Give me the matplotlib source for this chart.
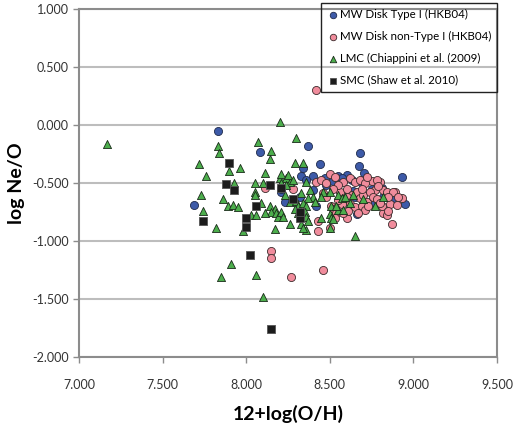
import matplotlib
matplotlib.use('Agg')
import matplotlib.pyplot as plt
from matplotlib.ticker import FormatStrFormatter

plt.rcParams['font.family'] = ['Lato', 'DejaVu Sans']

# MW Disk Type I (HKB04)
mw1_x = [7.83, 7.69, 8.08, 8.37, 8.44, 8.34, 8.68, 8.675, 8.705, 8.93,
         8.55, 8.60, 8.40, 8.33, 8.47, 8.40, 8.95, 8.66, 8.42, 8.21,
         8.32, 8.64, 8.75, 8.82, 8.81, 8.87, 8.23, 8.52, 8.57, 8.63,
         8.69, 8.75, 8.36, 8.21, 8.48, 8.65]
mw1_y = [-0.05, -0.69, -0.23, -0.18, -0.34, -0.37, -0.24, -0.35, -0.41, -0.45,
         -0.44, -0.43, -0.44, -0.44, -0.46, -0.56, -0.68, -0.77, -0.70, -0.575,
         -0.62, -0.57, -0.67, -0.62, -0.54, -0.65, -0.66, -0.48, -0.46, -0.47,
         -0.50, -0.55, -0.47, -0.55, -0.52, -0.62]

# MW Disk non-Type I (HKB04)
mw2_x = [8.42, 8.11, 8.28, 8.15, 8.15, 8.27, 8.46, 8.50, 8.42, 8.75,
         8.80, 8.89, 8.93, 8.86, 8.82, 8.84, 8.87, 8.60, 8.50, 8.43,
         8.46, 8.48, 8.56, 8.51, 8.54, 8.90, 8.81, 8.77, 8.82, 8.84,
         8.88, 8.43, 8.52, 8.54, 8.53, 8.58, 8.45, 8.53, 8.58, 8.62,
         8.65, 8.68, 8.71, 8.72, 8.78, 8.48, 8.55, 8.60, 8.63, 8.66,
         8.68, 8.70, 8.72, 8.74, 8.76, 8.78, 8.58, 8.62, 8.65, 8.69,
         8.71, 8.73, 8.57, 8.60, 8.55, 8.79, 8.85, 8.80, 8.91, 8.69,
         8.52, 8.85, 8.61, 8.67]
mw2_y = [0.30, -0.54, -0.55, -1.09, -1.15, -1.31, -1.25, -0.42, -0.49, -0.48,
         -0.49, -0.58, -0.63, -0.68, -0.76, -0.78, -0.85, -0.80, -0.89, -0.91,
         -0.59, -0.62, -0.58, -0.70, -0.73, -0.69, -0.70, -0.56, -0.56, -0.575,
         -0.575, -0.83, -0.72, -0.76, -0.80, -0.76, -0.47, -0.45, -0.49, -0.46,
         -0.49, -0.47, -0.50, -0.45, -0.47, -0.50, -0.52, -0.55, -0.60, -0.58,
         -0.63, -0.60, -0.66, -0.58, -0.62, -0.64, -0.64, -0.68, -0.71, -0.70,
         -0.73, -0.70, -0.68, -0.62, -0.65, -0.53, -0.62, -0.67, -0.62, -0.55,
         -0.55, -0.74, -0.74, -0.76]

# LMC (Chiappini et al. 2009)
lmc_x = [7.17, 7.83, 7.84, 8.07, 7.72, 7.90, 7.96, 7.76, 7.93, 8.05,
         8.05, 7.73, 7.74, 7.86, 7.89, 7.92, 7.95, 8.03, 8.06, 7.98,
         7.82, 7.91, 7.85, 8.06, 8.10, 8.15, 8.14, 8.11, 8.29, 8.20,
         8.30, 8.34, 8.20, 8.24, 8.26, 8.21, 8.36, 8.33, 8.38, 8.40,
         8.37, 8.46, 8.45, 8.23, 8.26, 8.30, 8.31, 8.34, 8.36, 8.41,
         8.09, 8.14, 8.17, 8.15, 8.11, 8.18, 8.19, 8.21, 8.22, 8.29,
         8.31, 8.35, 8.36, 8.37, 8.36, 8.33, 8.34, 8.26, 8.45, 8.17,
         8.65, 8.82, 8.77, 8.50, 8.55, 8.57, 8.59, 8.51, 8.55, 8.58,
         8.50, 8.51, 8.50, 8.52, 8.54, 8.05, 8.10, 8.21, 8.25, 8.24,
         8.28, 8.62, 8.64, 8.70]
lmc_y = [-0.16, -0.18, -0.24, -0.15, -0.34, -0.40, -0.37, -0.44, -0.50, -0.50,
         -0.575, -0.60, -0.74, -0.64, -0.695, -0.69, -0.71, -0.78, -0.78, -0.91,
         -0.89, -1.20, -1.31, -1.29, -1.48, -0.22, -0.29, -0.41, -0.325, 0.03,
         -0.11, -0.325, -0.46, -0.455, -0.49, -0.50, -0.49, -0.59, -0.56, -0.62,
         -0.63, -0.575, -0.62, -0.60, -0.66, -0.655, -0.70, -0.675, -0.70, -0.66,
         -0.675, -0.70, -0.72, -0.75, -0.76, -0.76, -0.79, -0.75, -0.79, -0.72,
         -0.76, -0.75, -0.79, -0.83, -0.905, -0.85, -0.89, -0.85, -0.80, -0.90,
         -0.96, -0.62, -0.70, -0.575, -0.60, -0.63, -0.62, -0.70, -0.73, -0.73,
         -0.77, -0.80, -0.89, -0.81, -0.70, -0.60, -0.50, -0.42, -0.43, -0.52,
         -0.47, -0.67, -0.60, -0.64]

# SMC (Shaw et al. 2010)
smc_x = [7.90, 7.88, 7.93, 7.74, 8.06, 8.00, 8.00, 8.02, 8.15, 8.14,
         8.21, 8.28, 8.32, 8.32]
smc_y = [-0.33, -0.51, -0.56, -0.83, -0.70, -0.80, -0.88, -1.12, -1.76, -0.52,
         -0.54, -0.64, -0.80, -0.75]

fig = plt.figure(figsize=(5.14, 4.29), dpi=100)
ax = fig.add_axes([79/514, 1-357/429, 418/514, 348/429])

ax.scatter(mw1_x, mw1_y, s=34, marker='o', color='#3d5aa8', edgecolors='#1f2a4a',
           linewidths=0.6, label='MW Disk Type I (HKB04)', zorder=3)
ax.scatter(mw2_x, mw2_y, s=34, marker='o', color='#f08c9c', edgecolors='#3a2a2a',
           linewidths=0.6, label='MW Disk non-Type I (HKB04)', zorder=3)
ax.scatter(lmc_x, lmc_y, s=34, marker='^', color='#4cae4c', edgecolors='#1a2a1a',
           linewidths=0.6, label='LMC (Chiappini et al. (2009)', zorder=3)
ax.scatter(smc_x, smc_y, s=26, marker='s', color='#1c1c1c', edgecolors='#555555',
           linewidths=0.6, label='SMC (Shaw et al. 2010)', zorder=3)

ax.set_xlim(7.0, 9.5)
ax.set_ylim(-2.0, 1.0)
ax.set_xticks([7.0, 7.5, 8.0, 8.5, 9.0, 9.5])
ax.set_yticks([-2.0, -1.5, -1.0, -0.5, 0.0, 0.5, 1.0])
ax.xaxis.set_major_formatter(FormatStrFormatter('%.3f'))
ax.yaxis.set_major_formatter(FormatStrFormatter('%.3f'))
ax.yaxis.grid(True, color='#bdbdbd', linewidth=1.5, zorder=0)
ax.set_axisbelow(True)
for sp in ax.spines.values():
    sp.set_color('#8c8c8c')
    sp.set_linewidth(1.5)
ax.tick_params(colors='#8c8c8c', labelcolor='#333333', labelsize=9, length=4, width=1)
ax.tick_params(axis='x', pad=12)

ax.set_xlabel('12+log(O/H)', fontsize=14, fontweight='bold', labelpad=10)
ax.set_ylabel('log Ne/O', fontsize=14, fontweight='bold', labelpad=5)

leg = ax.legend(loc='upper right', bbox_to_anchor=(497/514, 1-3/429),
                bbox_transform=fig.transFigure, borderaxespad=0, fontsize=8.3,
                handletextpad=0.1, handlelength=1.0, labelspacing=0.95,
                borderpad=0.5, fancybox=False, scatterpoints=1,
                markerscale=0.8)
frame = leg.get_frame()
frame.set_facecolor('none')
frame.set_edgecolor('#222222')
frame.set_linewidth(1.0)
frame.set_alpha(None)

plt.savefig('out.png', dpi=100)
